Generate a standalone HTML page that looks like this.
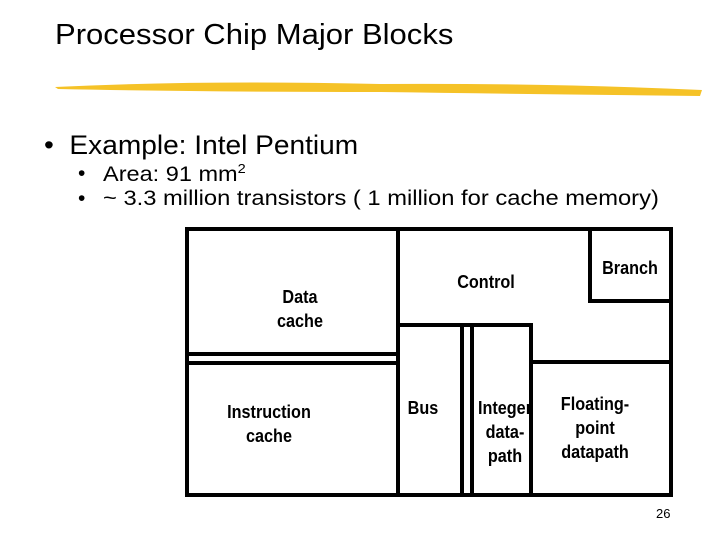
<!DOCTYPE html>
<html><head><style>
body{margin:0;width:720px;height:540px;background:#fff;position:relative;overflow:hidden;font-family:"Liberation Sans",sans-serif;}
.t{position:absolute;white-space:nowrap;color:#000;line-height:1.15}
.l{position:absolute;font-family:"Liberation Sans Narrow","Liberation Sans",sans-serif;font-weight:bold;font-size:18px;line-height:24px;text-align:center;color:#000;transform:scaleX(0.9)}
.b{position:absolute;background:#000}
</style></head><body>
<div class="t" style="left:55px;top:19px;font-size:29px;transform-origin:0 0;transform:scaleX(1.07)">Processor Chip Major Blocks</div>
<svg style="position:absolute;left:0;top:0" width="720" height="120">
<path d="M55 87 Q200 80 380 84 Q550 83 702 90 L700 96 Q520 94 380 92 Q200 92 58 89 Z" fill="#f5c227"/>
</svg>
<div class="t" style="left:44px;top:130px;font-size:27px;transform-origin:0 0;transform:scaleX(1.04)">•&nbsp; Example: Intel Pentium</div>
<div class="t" style="left:78px;top:162px;font-size:21px;">•</div>
<div class="t" style="left:103px;top:162px;font-size:21px;transform-origin:0 0;transform:scaleX(1.12)">Area: 91 mm<sup style="font-size:13px">2</sup></div>
<div class="t" style="left:78px;top:187px;font-size:21px;">•</div>
<div class="t" style="left:103px;top:187px;font-size:21px;transform-origin:0 0;transform:scaleX(1.13)">~ 3.3 million transistors ( 1 million for cache memory)</div>
<!-- boxes -->
<div class="b" style="left:185px;top:227px;width:488px;height:4px"></div>
<div class="b" style="left:185px;top:493px;width:488px;height:4px"></div>
<div class="b" style="left:185px;top:227px;width:4px;height:270px"></div>
<div class="b" style="left:669px;top:227px;width:4px;height:270px"></div>
<div class="b" style="left:396px;top:227px;width:4px;height:270px"></div>
<div class="b" style="left:185px;top:352px;width:213px;height:4px"></div>
<div class="b" style="left:185px;top:361px;width:213px;height:4px"></div>
<div class="b" style="left:588px;top:227px;width:4px;height:76px"></div>
<div class="b" style="left:588px;top:299px;width:84px;height:4px"></div>
<div class="b" style="left:397px;top:323px;width:136px;height:4px"></div>
<div class="b" style="left:529px;top:323px;width:4px;height:174px"></div>
<div class="b" style="left:530px;top:360px;width:142px;height:4px"></div>
<div class="b" style="left:460px;top:325px;width:4px;height:170px"></div>
<div class="b" style="left:470px;top:325px;width:4px;height:170px"></div>
<!-- labels -->
<div class="l" style="left:260px;top:285px;width:80px">Data<br>cache</div>
<div class="l" style="left:209px;top:400px;width:120px">Instruction<br>cache</div>
<div class="l" style="left:446px;top:270px;width:80px">Control</div>
<div class="l" style="left:590px;top:256px;width:80px">Branch</div>
<div class="l" style="left:393px;top:396px;width:60px">Bus</div>
<div class="l" style="left:470px;top:396px;width:70px">Integer<br>data-<br>path</div>
<div class="l" style="left:545px;top:392px;width:100px">Floating-<br>point<br>datapath</div>
<div class="t" style="left:656px;top:507px;font-size:13px;">26</div>
</body></html>
